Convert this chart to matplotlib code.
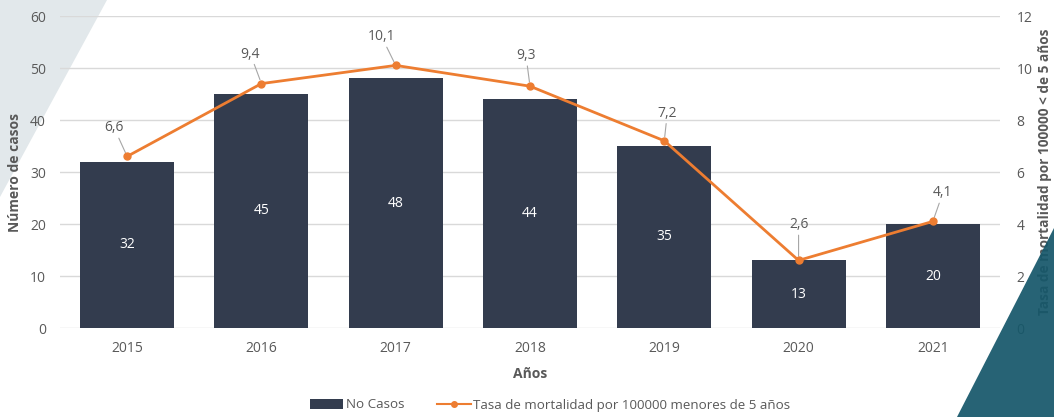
import matplotlib
matplotlib.use("Agg")
import matplotlib.pyplot as plt
from matplotlib.patches import Polygon
from matplotlib.lines import Line2D
from matplotlib.patches import Patch

years = ["2015", "2016", "2017", "2018", "2019", "2020", "2021"]
casos = [32, 45, 48, 44, 35, 13, 20]
tasa = [6.6, 9.4, 10.1, 9.3, 7.2, 2.6, 4.1]
tasa_labels = ["6,6", "9,4", "10,1", "9,3", "7,2", "2,6", "4,1"]

# label offsets in pixels (dx, dy) for line labels
label_offsets = [(-13, 21), (-11, 22), (-14, 21), (-4, 23), (3, 20), (0, 28), (10, 21)]

plt.rcParams['font.family'] = ['Open Sans', 'DejaVu Sans']
TEXT = '#595959'
BAR = '#333c4e'
ORANGE = '#ed7d31'
GRID = '#d9d9d9'

W, H = 1054, 417
fig = plt.figure(figsize=(W/100, H/100), dpi=100)

# decorative shapes
fig.patches.append(Polygon([(0, 1), (107/W, 1), (0, 1-197/H)], closed=True,
                           transform=fig.transFigure, facecolor='#e2e8eb',
                           edgecolor='none', zorder=-5))

ax = fig.add_axes([60/W, 1-328/H, (1000-60)/W, (328-16)/H])
ax.set_facecolor('none')
x = list(range(len(years)))
bars = ax.bar(x, casos, width=0.7, color=BAR, zorder=2)
ax.set_ylim(0, 60)
ax.set_xlim(-0.5, len(years)-0.5)
ax.set_yticks(range(0, 61, 10))
ax.grid(axis='y', color=GRID, lw=1, zorder=0)
ax.set_xticks(x)
ax.set_xticklabels(years)
for s in ax.spines.values():
    s.set_visible(False)
ax.tick_params(axis='both', length=0, colors=TEXT, labelsize=10)
ax.tick_params(axis='x', pad=9)
ax.tick_params(axis='y', pad=10)
ax.set_xlabel('Años', color=TEXT, fontsize=10, fontweight='bold', labelpad=8)
ax.set_ylabel('Número de casos', color=TEXT, fontsize=10, fontweight='bold', labelpad=6)

for xi, v in zip(x, casos):
    ax.text(xi, v/2, str(v), ha='center', va='center', color='white', fontsize=10, zorder=3)

ax2 = ax.twinx()
ax2.set_ylim(0, 12)
ax2.set_yticks(range(0, 13, 2))
for s in ax2.spines.values():
    s.set_visible(False)
ax2.tick_params(axis='y', length=0, colors=TEXT, labelsize=10, pad=12)
ax2.plot(x, tasa, color=ORANGE, lw=2, marker='o', ms=5, zorder=4)
ax2.set_ylabel('Tasa de mortalidad por 100000 < de 5 años', color=TEXT,
               fontsize=9.8, fontweight='bold', labelpad=4)

for xi, v, lab, (dx, dy) in zip(x, tasa, tasa_labels, label_offsets):
    ax2.annotate(lab, xy=(xi, v), xytext=(dx*0.72, dy*0.72), textcoords='offset points',
                 ha='center', va='bottom', color=TEXT, fontsize=10,
                 arrowprops=dict(arrowstyle='-', color='#a6a6a6', lw=0.8,
                                 shrinkA=0, shrinkB=3))

handles = [Patch(facecolor=BAR, edgecolor='none'),
           Line2D([0], [0], color=ORANGE, lw=1.5, marker='o', ms=4)]
fig.legend(handles, ['No Casos', 'Tasa de mortalidad por 100000 menores de 5 años'],
           loc='center', bbox_to_anchor=(550/W, 1-405/H), ncol=2, frameon=False,
           fontsize=9.6, labelcolor=TEXT, handlelength=2.5, handletextpad=0.2,
           columnspacing=2.5)

tri = Polygon([(957/W, 0), (1/1, 1-228/H), (1, 0)], closed=True,
              transform=fig.transFigure, facecolor='#16576a', edgecolor='none',
              zorder=10, alpha=0.93)
fig.patches.append(tri)

fig.savefig('out.png', dpi=100)
